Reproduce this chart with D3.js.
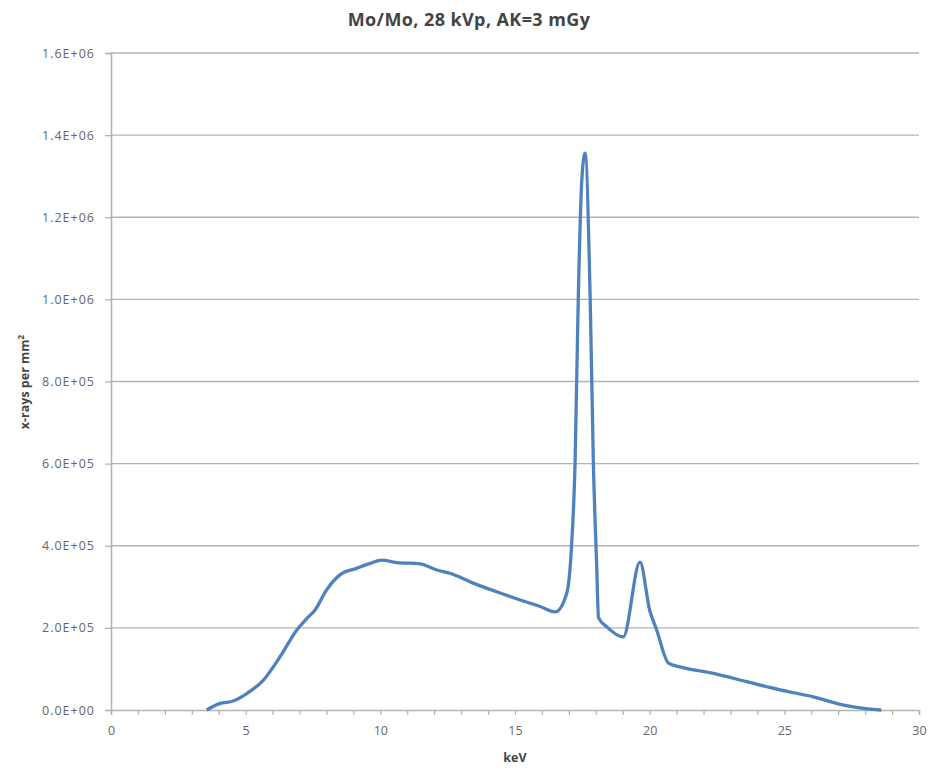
<!DOCTYPE html>
<html><head><meta charset="utf-8">
<script src="https://cdn.jsdelivr.net/npm/d3@7"></script>
<style>body{margin:0;background:#fff;} text{font-family:"Open Sans","Liberation Sans",Arial,sans-serif;}</style>
</head><body><svg id="c" width="948" height="768"></svg>
<script>
const titleText = "Mo/Mo, 28 kVp, AK=3 mGy";
const xTitle = "keV";
const yTitle = "x-rays per mm";
const keV = [3.55,4.05,4.54,5.04,5.66,6.28,6.9,7.27,7.57,8.0,8.5,9.12,9.62,10.05,10.6,11.47,12.1,12.59,13.45,14.32,15.19,15.93,16.49,16.92,17.1,17.23,17.35,17.48,17.6,17.79,17.91,18.03,18.1,18.4,19.02,19.64,20.0,20.26,20.7,21.13,22.37,23.6,24.84,26.08,27.2,27.94,28.6];
const counts = [0,16000,22000,40000,73000,130000,195000,223000,243000,292000,329000,345000,357000,365000,359000,356000,341000,333000,309000,288000,268000,252000,239000,284000,400000,601000,1006000,1290000,1356000,1006000,601000,358000,225000,203000,178000,360000,243000,195000,114000,105000,89000,69000,49000,32000,12000,4000,0];
const xTicks = [0,5,10,15,20,25,30];
const yTicks = [0,2e5,4e5,6e5,8e5,1.0e6,1.2e6,1.4e6,1.6e6];

const svg = d3.select("#c");
const m = {l:111, r:919, t:53, b:710};
const x = d3.scaleLinear().domain([0,30]).range([m.l,m.r]);
const y = d3.scaleLinear().domain([0,1.6e6]).range([m.b,m.t]);
const fmt = v => { if (v===0) return "0.0E+00"; const e=Math.floor(Math.log10(v)); const mm=v/Math.pow(10,e); return mm.toFixed(1)+"E+"+String(e).padStart(2,"0"); };

// grid
svg.append("g").selectAll("line").data(yTicks.slice(1)).join("line")
  .attr("x1",m.l).attr("x2",m.r).attr("y1",d=>y(d)).attr("y2",d=>y(d))
  .attr("stroke","#b4b4b4").attr("stroke-width",1.3);

// y axis
const ya = svg.append("g").attr("transform",`translate(${m.l},0)`)
  .call(d3.axisLeft(y).tickValues(yTicks).tickFormat(fmt).tickSize(6).tickPadding(10));
ya.select(".domain").attr("stroke","#b4b4b4").attr("stroke-width",1.6);
ya.selectAll(".tick line").attr("stroke","#b4b4b4").attr("stroke-width",1.3);
ya.selectAll("text").attr("font-size",12.5).attr("letter-spacing",1).attr("fill","#666");

// x axis
const xa = svg.append("g").attr("transform",`translate(0,${m.b})`)
  .call(d3.axisBottom(x).ticks(30).tickFormat(d=> xTicks.includes(d)? d : "").tickSize(5).tickPadding(11));
xa.select(".domain").attr("stroke","#b4b4b4").attr("stroke-width",1.6);
xa.selectAll(".tick line").attr("stroke","#b4b4b4").attr("stroke-width",1.3);
xa.selectAll("text").attr("font-size",12.5).attr("fill","#666");

// line
const pts = keV.map((k,i)=>[k,counts[i]]);
svg.append("path").datum(pts)
  .attr("fill","none").attr("stroke","#4F81BD").attr("stroke-width",3.3).attr("stroke-linejoin","round")
  .attr("d", d3.line().x(d=>x(d[0])).y(d=>y(d[1])).curve(d3.curveMonotoneX));

// titles
svg.append("text").attr("x",469).attr("y",26).attr("text-anchor","middle")
  .attr("font-size",18).attr("font-weight","bold").attr("letter-spacing",0.4).attr("fill","#444").text(titleText);
svg.append("text").attr("x",515).attr("y",762).attr("text-anchor","middle")
  .attr("font-size",12.5).attr("font-weight","bold").attr("fill","#444").text(xTitle);
const yt = svg.append("text").attr("transform","translate(29,382) rotate(-90)").attr("text-anchor","middle")
  .attr("font-size",12.5).attr("font-weight","bold").attr("fill","#444");
yt.append("tspan").text(yTitle);
yt.append("tspan").attr("dy",-5).attr("font-size",8).text("2");
</script></body></html>
